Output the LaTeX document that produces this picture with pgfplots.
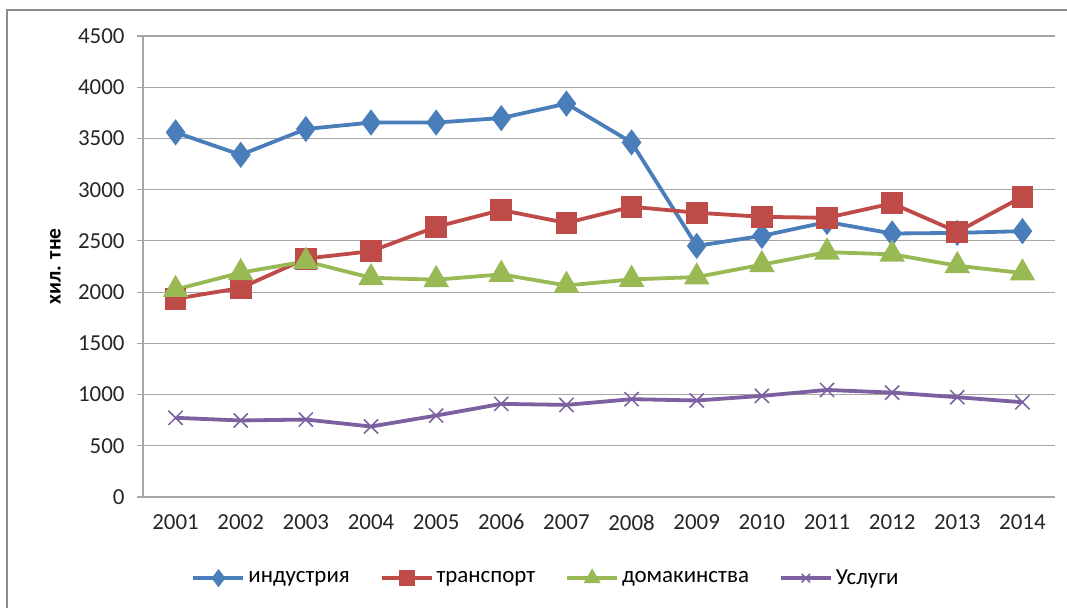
\documentclass[border=0pt]{standalone}
\usepackage{pgfplots}
\pgfplotsset{compat=1.18}
\usepackage{fontspec}
\setmainfont{Carlito}
\definecolor{cblue}{HTML}{4A7EBB}
\definecolor{cred}{HTML}{BE4B48}
\definecolor{cgreen}{HTML}{98B954}
\definecolor{cpurple}{HTML}{7D60A0}
\definecolor{cgrid}{HTML}{A6A6A6}
\definecolor{cframe}{HTML}{8C8C8C}
\begin{document}
\begin{tikzpicture}
\useasboundingbox (0,0) rectangle (1067bp,608bp);
\draw[cframe, line width=2bp] (7bp,0bp) -- (7bp,598bp) -- (1067bp,598bp);
\begin{axis}[
  at={(143bp,111bp)}, anchor=south west,
  scale only axis, width=912bp, height=461bp,
  xmin=-0.5, xmax=13.5, ymin=0, ymax=4500,
  ytick={0,500,...,4500},
  xtick={0,...,13},
  xticklabels={2001,2002,2003,2004,2005,2006,2007,2008,2009,2010,2011,2012,2013,2014},
  x tick style={draw=none},
  extra x ticks={-0.5,0.5,...,13.5},
  extra x tick labels={},
  extra x tick style={major tick length=7bp, tick align=outside, tick style={draw=cgrid, line width=1.2bp}, grid=none},
  axis x line*=bottom, axis y line*=left,
  axis line style={cgrid, line width=1.2bp},
  ytick pos=left, tick align=outside, major tick length=6bp,
  y tick style={draw=cgrid, line width=1.2bp},
  ymajorgrids, grid style={cgrid, line width=1.2bp},
  /pgf/number format/assume math mode=true,
  /pgf/number format/1000 sep={},
  ticklabel style={font=\fontsize{23}{27}\selectfont, text=black!85},
  yticklabel style={xshift=-9bp},
  xticklabel style={yshift=-8bp},
  ylabel={хил. тне},
  every axis y label/.style={at={(axis description cs:-0.096,0.50)}, rotate=90, anchor=center, font=\fontsize{21.5}{25}\selectfont\bfseries},
  legend columns=4,
  legend style={draw=none, fill=none, at={(axis description cs:0.442,-0.176)}, anchor=center,
    font=\fontsize{23}{27}\selectfont, inner sep=0pt,
    /tikz/every odd column/.append style={column sep=1bp},
    /tikz/every even column/.append style={column sep=28bp}},
  legend cell align=left,
  legend image code/.code={\draw[mark repeat=2,mark phase=2,#1,mark size=6bp] plot coordinates {(0bp,0bp) (25bp,0bp) (50bp,0bp)};},
  every axis plot/.append style={line width=3.8bp},
  clip=false,
]
\addplot[cblue, mark=diamond*, mark size=10bp, mark options={solid, fill=cblue}] coordinates {
(0,3559) (1,3340) (2,3592) (3,3655) (4,3655) (5,3699) (6,3840) (7,3461) (8,2451) (9,2549) (10,2685) (11,2572) (12,2578) (13,2595)};
\addlegendentry{индустрия}
\addplot[cred, mark=square*, mark size=9bp, mark options={solid, fill=cred}] coordinates {
(0,1935) (1,2040) (2,2327) (3,2399) (4,2637) (5,2801) (6,2675) (7,2833) (8,2775) (9,2735) (10,2725) (11,2866) (12,2588) (13,2931)};
\addlegendentry{транспорт}
\addplot[cgreen, mark=triangle*, mark size=11bp, mark options={solid, fill=cgreen}] coordinates {
(0,2025) (1,2190) (2,2300) (3,2140) (4,2121) (5,2173) (6,2065) (7,2124) (8,2147) (9,2268) (10,2390) (11,2369) (12,2258) (13,2186)};
\addlegendentry{домакинства}
\addplot[cpurple, mark=x, mark size=10bp, mark options={solid, line width=1.5bp}] coordinates {
(0,773) (1,747) (2,756) (3,688) (4,795) (5,909) (6,899) (7,955) (8,942) (9,987) (10,1045) (11,1019) (12,974) (13,925)};
\addlegendentry{Услуги}
\end{axis}
\end{tikzpicture}
\end{document}
